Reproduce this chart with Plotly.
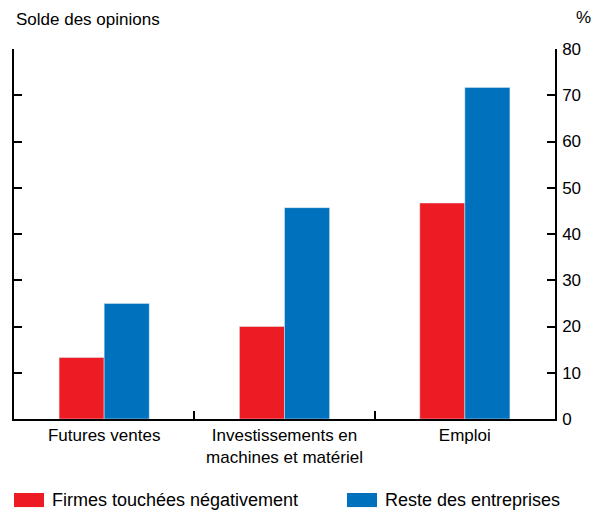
import plotly.graph_objects as go

categories = ["Futures ventes", "Investissements en<br>machines et matériel", "Emploi"]
firmes = [13.3, 20.0, 46.7]
reste = [25.0, 45.7, 71.7]
yticks = [0, 10, 20, 30, 40, 50, 60, 70, 80]
names = ["Firmes touchées négativement", "Reste des entreprises"]
colors = ["#ED1C24", "#0071BC"]

fig = go.Figure()
fig.add_bar(x=categories, y=firmes, name=names[0], marker_color=colors[0])
fig.add_bar(x=categories, y=reste, name=names[1], marker_color=colors[1])
fig.add_scatter(x=categories, y=[None]*3, yaxis="y2", showlegend=False, hoverinfo="skip")

font = dict(family="Liberation Sans, Arial", size=17, color="black")
shapes, annots = [], []
for i, (nm, c, x0) in enumerate(zip(names, colors, [0.0, 0.6155])):
    shapes.append(dict(type="rect", xref="paper", yref="paper", x0=x0, x1=x0 + 0.0555,
                       y0=-0.2, y1=-0.238, fillcolor=c, line_width=0))
    annots.append(dict(text=nm, xref="paper", yref="paper", x=x0 + 0.0665, y=-0.219,
                       xanchor="left", yanchor="middle", showarrow=False,
                       font=dict(family="Liberation Sans, Arial", size=18, color="black")))
annots += [
    dict(text="Solde des opinions", xref="paper", yref="paper", x=0, y=1.111,
         xanchor="left", yanchor="top", showarrow=False, font=font),
    dict(text="%", xref="paper", yref="paper", x=1.07, y=1.086,
         xanchor="right", yanchor="middle", showarrow=False, font=font),
]

fig.update_layout(
    width=591, height=504, barmode="group", bargap=0.5, bargroupgap=0,
    plot_bgcolor="white", paper_bgcolor="white", font=font, showlegend=False,
    margin=dict(l=6, r=44, t=41, b=93, autoexpand=False),
    xaxis=dict(showline=True, linecolor="black", linewidth=1.5, ticks="inside",
               tickson="boundaries", ticklen=8, tickcolor="black", tickwidth=1.5),
    yaxis=dict(side="right", range=[0, 80], tickvals=yticks, ticks="inside", ticklen=8,
               tickcolor="black", tickwidth=1.5, showline=True, linecolor="black",
               linewidth=1.5, showgrid=False, zeroline=False, ticklabelstandoff=2),
    yaxis2=dict(overlaying="y", side="left", range=[0, 80], tickvals=yticks, ticks="inside",
                ticklen=8, tickcolor="black", tickwidth=1.5, showline=True, linecolor="black",
                linewidth=1.5, showticklabels=False, showgrid=False, zeroline=False),
    shapes=shapes, annotations=annots,
)
fig.write_html("out.html")
